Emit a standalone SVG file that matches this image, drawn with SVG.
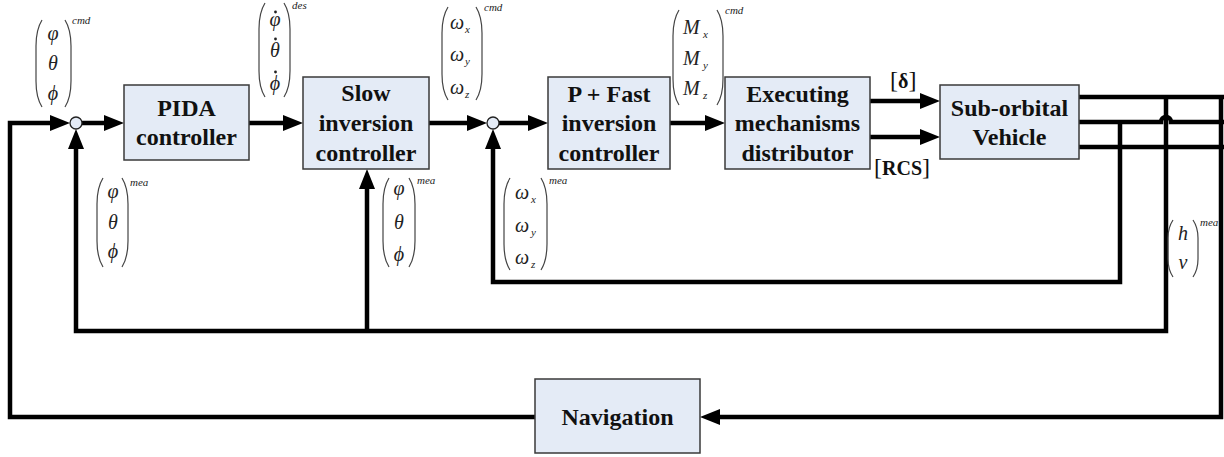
<svg xmlns="http://www.w3.org/2000/svg" width="1224" height="457" viewBox="0 0 1224 457">
  <style>
    .box { fill: #e4ebf6; stroke: #3a3a3a; stroke-width: 1.5; }
    .lbl { font-weight: bold; font-size: 24px; fill: #111; text-anchor: middle; }
    .wire { fill: none; stroke: #000; stroke-width: 4.5; stroke-linejoin: miter; }
    .sum { fill: #e4ebf6; stroke: #222; stroke-width: 1.3; }
    .m { font-style: italic; font-size: 20px; fill: #222; }
    .mc { text-anchor: middle; }
    .sub { font-style: italic; font-size: 11px; fill: #222; }
    .sup { font-style: italic; font-size: 11px; fill: #222; }
    .par { fill: none; stroke: #444; stroke-width: 1.2; }
    .dot { fill: #222; }
    .br { font-size: 24px; fill: #111; }
    .brb { font-weight: bold; font-size: 20px; }
  </style>
  <defs>
    <marker id="ah" markerWidth="20" markerHeight="16" refX="10" refY="8" orient="auto" markerUnits="userSpaceOnUse">
      <path d="M0,0 L20,8 L0,16 z" fill="#000"/>
    </marker>
  </defs>

  <!-- connectors -->
  <g id="connectors">
    <path class="wire" d="M535,417 H10 V123 H60" marker-end="url(#ah)"/>
    <path class="wire" d="M82,123 H114" marker-end="url(#ah)"/>
    <path class="wire" d="M249,123 H293" marker-end="url(#ah)"/>
    <path class="wire" d="M429,123 H477" marker-end="url(#ah)"/>
    <path class="wire" d="M499,123 H538" marker-end="url(#ah)"/>
    <path class="wire" d="M670,123 H715" marker-end="url(#ah)"/>
    <path class="wire" d="M870,101 H930" marker-end="url(#ah)"/>
    <path class="wire" d="M870,137 H930" marker-end="url(#ah)"/>
    <!-- vehicle outputs -->
    <path class="wire" d="M1079,97 H1224"/>
    <path class="wire" d="M1079,122 H1161 A5,5 0 0 1 1171,122 H1224"/>
    <path class="wire" d="M1079,147 H1224"/>
    <!-- feedback to navigation -->
    <path class="wire" d="M1221,97 V417 H710" marker-end="url(#ah)"/>
    <!-- attitude feedback -->
    <path class="wire" d="M1166,97 V331 H76 V139" marker-end="url(#ah)"/>
    <path class="wire" d="M367,331 V179" marker-end="url(#ah)"/>
    <!-- rate feedback -->
    <path class="wire" d="M1120,122 V282 H493 V139" marker-end="url(#ah)"/>
  </g>

  <!-- summing junctions -->
  <g id="sum1"><circle class="sum" cx="76" cy="123" r="6"/></g>
  <g id="sum2"><circle class="sum" cx="493" cy="123" r="6"/></g>

  <g font-family="'Liberation Serif', 'DejaVu Serif', serif">
  <!-- blocks -->
  <g id="pida">
    <rect class="box" x="124" y="85" width="125" height="75"/>
    <text class="lbl" x="186.5" y="116">PIDA</text>
    <text class="lbl" x="186.5" y="145">controller</text>
  </g>
  <g id="slow">
    <rect class="box" x="303" y="77" width="126" height="92"/>
    <text class="lbl" x="366" y="101">Slow</text>
    <text class="lbl" x="366" y="131">inversion</text>
    <text class="lbl" x="366" y="161">controller</text>
  </g>
  <g id="fast">
    <rect class="box" x="548" y="77" width="122" height="92"/>
    <text class="lbl" x="609" y="102">P + Fast</text>
    <text class="lbl" x="609" y="131">inversion</text>
    <text class="lbl" x="609" y="161">controller</text>
  </g>
  <g id="executing">
    <rect class="box" x="725" y="77" width="145" height="92"/>
    <text class="lbl" x="797.5" y="102">Executing</text>
    <text class="lbl" x="797.5" y="131">mechanisms</text>
    <text class="lbl" x="797.5" y="161">distributor</text>
  </g>
  <g id="vehicle">
    <rect class="box" x="940" y="85" width="139" height="74"/>
    <text class="lbl" x="1009.5" y="116">Sub-orbital</text>
    <text class="lbl" x="1009.5" y="145">Vehicle</text>
  </g>
  <g id="navigation">
    <rect class="box" x="535" y="379" width="165" height="74"/>
    <text class="lbl" x="617.5" y="425">Navigation</text>
  </g>

  <!-- actuator labels -->
  <g id="delta-label">
    <text class="br" x="890" y="88">[<tspan class="brb">δ</tspan>]</text>
  </g>
  <g id="rcs-label">
    <text class="br" x="874" y="175">[<tspan class="brb">RCS</tspan>]</text>
  </g>

  <!-- attitude command vector -->
  <g id="att-cmd">
    <path class="par" d="M42,20 C37,28 36,36 36,46 V81 C36,91 37,99 42,107"/>
    <path class="par" d="M65,20 C70,28 71,36 71,46 V81 C71,91 70,99 65,107"/>
    <text class="m mc" x="53" y="40">φ</text>
    <text class="m mc" x="53" y="70">θ</text>
    <text class="m mc" x="53" y="100">ϕ</text>
    <text class="sup" x="72" y="24">cmd</text>
  </g>

  <!-- attitude rate demand vector (dots mark time derivatives) -->
  <g id="rate-des">
    <path class="par" d="M265,3 C260,11 259,19 259,29 V71 C259,81 260,89 265,97"/>
    <path class="par" d="M284,3 C289,11 290,19 290,29 V71 C290,81 289,89 284,97"/>
    <text class="m mc" x="275" y="26">φ</text>
    <circle class="dot" cx="275.5" cy="12" r="1.4"/>
    <text class="m mc" x="275" y="57">θ</text>
    <circle class="dot" cx="275.5" cy="39" r="1.4"/>
    <text class="m mc" x="275" y="90">ϕ</text>
    <circle class="dot" cx="275.5" cy="72" r="1.4"/>
    <text class="sup" x="292" y="9">des</text>
  </g>

  <!-- angular rate command vector -->
  <g id="omega-cmd">
    <path class="par" d="M448,7 C443,15 442,23 442,33 V74 C442,84 443,92 448,100"/>
    <path class="par" d="M476,7 C481,15 482,23 482,33 V74 C482,84 481,92 476,100"/>
    <text class="m" x="450" y="29">ω</text><text class="sub" x="465" y="33">x</text>
    <text class="m" x="450" y="61">ω</text><text class="sub" x="465" y="65">y</text>
    <text class="m" x="450" y="94">ω</text><text class="sub" x="465" y="98">z</text>
    <text class="sup" x="484" y="11">cmd</text>
  </g>

  <!-- moment command vector -->
  <g id="moment-cmd">
    <path class="par" d="M679,10 C674,18 673,26 673,36 V79 C673,89 674,97 679,105"/>
    <path class="par" d="M717,10 C722,18 723,26 723,36 V79 C723,89 722,97 717,105"/>
    <text class="m" x="683" y="34">M</text><text class="sub" x="703" y="38">x</text>
    <text class="m" x="683" y="65">M</text><text class="sub" x="703" y="69">y</text>
    <text class="m" x="683" y="95">M</text><text class="sub" x="703" y="99">z</text>
    <text class="sup" x="725" y="14">cmd</text>
  </g>

  <!-- measured attitude vectors -->
  <g id="att-mea-1">
    <path class="par" d="M103,178 C98,186 97,194 97,204 V241 C97,251 98,259 103,267"/>
    <path class="par" d="M122,178 C127,186 128,194 128,204 V241 C128,251 127,259 122,267"/>
    <text class="m mc" x="113" y="198">φ</text>
    <text class="m mc" x="113" y="229">θ</text>
    <text class="m mc" x="113" y="258">ϕ</text>
    <text class="sup" x="130" y="186">mea</text>
  </g>
  <g id="att-mea-2">
    <path class="par" d="M389,178 C384,186 383,194 383,204 V241 C383,251 384,259 389,267"/>
    <path class="par" d="M409,178 C414,186 415,194 415,204 V241 C415,251 414,259 409,267"/>
    <text class="m mc" x="399" y="195">φ</text>
    <text class="m mc" x="399" y="229">θ</text>
    <text class="m mc" x="399" y="261">ϕ</text>
    <text class="sup" x="417" y="184">mea</text>
  </g>

  <!-- measured angular rate vector -->
  <g id="omega-mea">
    <path class="par" d="M510,178 C505,186 504,194 504,204 V244 C504,254 505,262 510,270"/>
    <path class="par" d="M541,178 C546,186 547,194 547,204 V244 C547,254 546,262 541,270"/>
    <text class="m" x="515" y="199">ω</text><text class="sub" x="531" y="203">x</text>
    <text class="m" x="515" y="232">ω</text><text class="sub" x="531" y="236">y</text>
    <text class="m" x="515" y="264">ω</text><text class="sub" x="531" y="268">z</text>
    <text class="sup" x="549" y="184">mea</text>
  </g>

  <!-- measured altitude and velocity -->
  <g id="hv-mea">
    <path class="par" d="M1173,220 C1169,226 1168,232 1168,238 V259 C1168,265 1169,271 1173,277"/>
    <path class="par" d="M1193,220 C1197,226 1198,232 1198,238 V259 C1198,265 1197,271 1193,277"/>
    <text class="m mc" x="1183" y="240">h</text>
    <text class="m mc" x="1183" y="269">v</text>
    <text class="sup" x="1200" y="226">mea</text>
  </g>
  </g>
</svg>
